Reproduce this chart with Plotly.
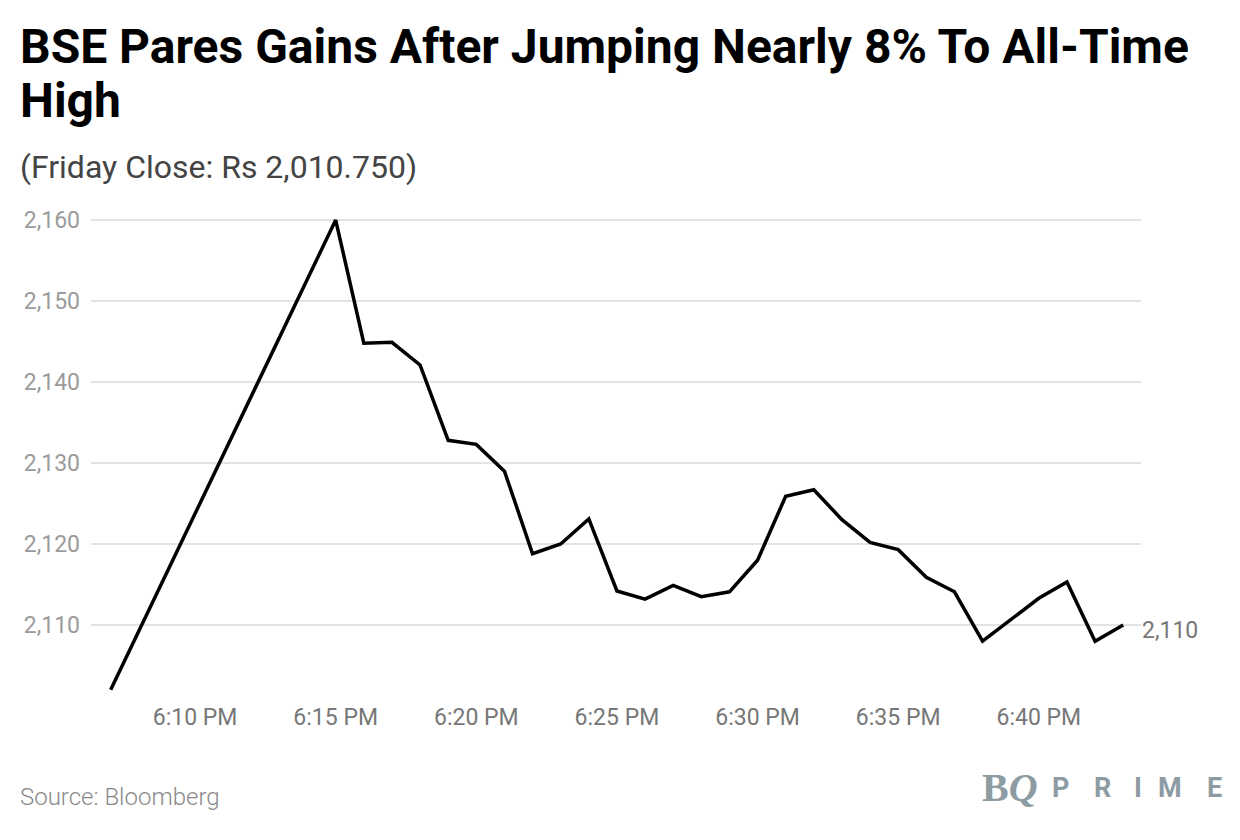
import plotly.graph_objects as go
import pandas as pd

times = ["18:07", "18:15", "18:16", "18:17", "18:18", "18:19", "18:20", "18:21", "18:22",
         "18:23", "18:24", "18:25", "18:26", "18:27", "18:28", "18:29", "18:30", "18:31",
         "18:32", "18:33", "18:34", "18:35", "18:36", "18:37", "18:38", "18:39", "18:40",
         "18:41", "18:42", "18:43"]
prices = [2102.0, 2160.0, 2144.8, 2144.9, 2142.1, 2132.8, 2132.3, 2129.0, 2118.8,
          2120.0, 2123.1, 2114.2, 2113.2, 2114.9, 2113.5, 2114.1, 2118.0, 2125.9,
          2126.7, 2123.0, 2120.2, 2119.3, 2115.9, 2114.1, 2108.0, 2110.6, 2113.3,
          2115.3, 2108.0, 2110.0]
y_ticks = [2110, 2120, 2130, 2140, 2150, 2160]
x_ticks = ["18:10", "18:15", "18:20", "18:25", "18:30", "18:35", "18:40"]
x_tick_labels = ["6:10 PM", "6:15 PM", "6:20 PM", "6:25 PM", "6:30 PM", "6:35 PM", "6:40 PM"]

title_lines = ["BSE Pares Gains After Jumping Nearly 8% To All-Time", "High"]
subtitle = "(Friday Close: Rs 2,010.750)"
source = "Source: Bloomberg"

day = "2023-01-02 "
xs = pd.to_datetime([day + t for t in times])
xt = pd.to_datetime([day + t for t in x_ticks])

W, H = 1240, 840
OFF = 8  # page body margin
L, R, T, B = 83, 107, 210, 148
PW, PH = W - L - R, H - T - B


def px(xp):
    return (xp - OFF - L) / PW


def py(yp):
    return 1 - (yp - OFF - T) / PH


fig = go.Figure()
fig.add_trace(go.Scatter(x=xs, y=prices, mode="lines",
                         line=dict(color="#000000", width=3.5), hoverinfo="skip"))

fig.add_annotation(x=xs[-1], y=prices[-1], text="{:,.0f}".format(prices[-1]),
                   showarrow=False, xanchor="left", xshift=17, yshift=-5,
                   font=dict(family="Roboto", size=23, color="#777777"))

fig.update_layout(
    width=W, height=H,
    paper_bgcolor="white", plot_bgcolor="white",
    margin=dict(l=L, r=R, t=T, b=B),
    showlegend=False,
    font=dict(family="Roboto"),
    xaxis=dict(
        range=[pd.Timestamp(day + "18:06:18"), pd.Timestamp(day + "18:43:38")],
        tickvals=xt, ticktext=x_tick_labels,
        showgrid=False, zeroline=False, showline=False, ticks="",
        tickfont=dict(family="Roboto", size=23, color="#777777"),
        ticklabelstandoff=1,
    ),
    yaxis=dict(
        range=[2100.74, 2160.25],
        tickvals=y_ticks, ticktext=["{:,}".format(v) for v in y_ticks],
        showgrid=True, gridcolor="#e3e3e3", gridwidth=1.5,
        zeroline=False, showline=False, ticks="",
        tickfont=dict(family="Roboto", size=23, color="#9b9b9b"),
        ticklabelstandoff=10,
    ),
)

# title lines
for txt, yc in zip(title_lines, [47, 101]):
    fig.add_annotation(xref="paper", yref="paper", x=px(18), y=py(yc),
                       xanchor="left", yanchor="middle", showarrow=False,
                       text="<b>" + txt + "</b>",
                       font=dict(family="Roboto", size=48, color="#000000"))
# subtitle
fig.add_annotation(xref="paper", yref="paper", x=px(18), y=py(167),
                   xanchor="left", yanchor="middle", showarrow=False,
                   text=subtitle,
                   font=dict(family="Roboto", size=32, color="#444444"))
# source
fig.add_annotation(xref="paper", yref="paper", x=px(18), y=py(797),
                   xanchor="left", yanchor="middle", showarrow=False,
                   text=source,
                   font=dict(family="Roboto", size=24, color="#8a8a8a", weight=300))
# logo
logo_color = "#8d9ba3"
fig.add_annotation(xref="paper", yref="paper", x=px(980), y=py(787),
                   xanchor="left", yanchor="middle", showarrow=False,
                   text="<b>B<i>Q</i></b>",
                   font=dict(family="Liberation Serif", size=40, color=logo_color))
for letter, xc in zip("PRIME", [1060, 1102, 1138, 1170, 1214]):
    fig.add_annotation(xref="paper", yref="paper", x=px(xc), y=py(788),
                       xanchor="center", yanchor="middle", showarrow=False,
                       text="<b>" + letter + "</b>",
                       font=dict(family="Roboto", size=27, color=logo_color))

fig.write_html("out.html")
